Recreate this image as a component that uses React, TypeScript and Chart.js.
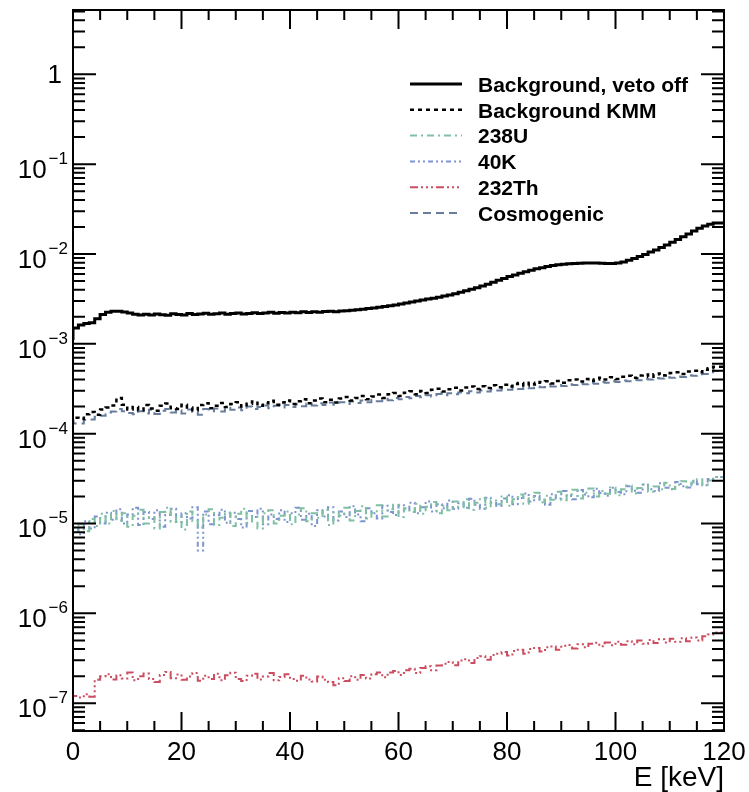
import React, { useEffect, useRef } from "react";
import { Chart, registerables } from "chart.js";

Chart.register(...registerables);

// ---------- data (1 keV bins, value per bin) ----------
const energyBinEdgesKeV: number[] = Array.from({ length: 121 }, (_, i) => i);

const xTickValues = [0, 20, 40, 60, 80, 100, 120];
const yTickExponents = [0, -1, -2, -3, -4, -5, -6, -7];

const seriesLabels = [
  "Background, veto off",
  "Background KMM",
  "238U",
  "40K",
  "232Th",
  "Cosmogenic",
];

const vetoOff = [
  1.1e-3, 1.5e-3, 1.62e-3, 1.68e-3, 1.72e-3, 1.9e-3, 2.12e-3, 2.24e-3, 2.3e-3, 2.3e-3,
  2.26e-3, 2.2e-3, 2.14e-3, 2.1e-3, 2.13e-3, 2.09e-3, 2.15e-3, 2.11e-3, 2.08e-3, 2.16e-3,
  2.12e-3, 2.1e-3, 2.17e-3, 2.12e-3, 2.15e-3, 2.19e-3, 2.13e-3, 2.16e-3, 2.2e-3, 2.14e-3,
  2.18e-3, 2.21e-3, 2.15e-3, 2.18e-3, 2.22e-3, 2.17e-3, 2.2e-3, 2.24e-3, 2.19e-3, 2.23e-3,
  2.21e-3, 2.25e-3, 2.22e-3, 2.27e-3, 2.23e-3, 2.27e-3, 2.24e-3, 2.29e-3, 2.3e-3, 2.28e-3,
  2.32e-3, 2.34e-3, 2.37e-3, 2.4e-3, 2.43e-3, 2.47e-3, 2.51e-3, 2.55e-3, 2.6e-3, 2.65e-3,
  2.7e-3, 2.78e-3, 2.85e-3, 2.92e-3, 3.0e-3, 3.08e-3, 3.15e-3, 3.22e-3, 3.3e-3, 3.4e-3,
  3.5e-3, 3.62e-3, 3.75e-3, 3.9e-3, 4.05e-3, 4.2e-3, 4.4e-3, 4.6e-3, 4.85e-3, 5.1e-3,
  5.35e-3, 5.6e-3, 5.85e-3, 6.1e-3, 6.35e-3, 6.6e-3, 6.85e-3, 7.05e-3, 7.25e-3, 7.45e-3,
  7.6e-3, 7.7e-3, 7.8e-3, 7.85e-3, 7.9e-3, 7.95e-3, 7.95e-3, 7.95e-3, 7.9e-3, 7.85e-3,
  7.85e-3, 7.95e-3, 8.15e-3, 8.5e-3, 8.9e-3, 9.4e-3, 9.9e-3, 1.05e-2, 1.11e-2, 1.18e-2,
  1.26e-2, 1.35e-2, 1.45e-2, 1.56e-2, 1.67e-2, 1.8e-2, 1.93e-2, 2.05e-2, 2.15e-2, 2.22e-2,
];

const backgroundKMM = [
  1.3e-4, 1.5e-4, 1.46e-4, 1.64e-4, 1.74e-4, 1.62e-4, 1.86e-4, 1.95e-4, 2.06e-4, 2.5e-4,
  2.1e-4, 1.86e-4, 1.98e-4, 1.82e-4, 2.08e-4, 1.9e-4, 1.8e-4, 2.04e-4, 2.16e-4, 1.92e-4,
  1.88e-4, 2.1e-4, 1.96e-4, 1.82e-4, 2.08e-4, 2.18e-4, 1.92e-4, 2.05e-4, 2.2e-4, 1.98e-4,
  2.14e-4, 2.24e-4, 2.0e-4, 2.15e-4, 2.28e-4, 2.04e-4, 2.18e-4, 2.32e-4, 2.1e-4, 2.22e-4,
  2.34e-4, 2.14e-4, 2.3e-4, 2.42e-4, 2.18e-4, 2.34e-4, 2.46e-4, 2.24e-4, 2.38e-4, 2.22e-4,
  2.46e-4, 2.56e-4, 2.34e-4, 2.5e-4, 2.62e-4, 2.42e-4, 2.6e-4, 2.72e-4, 2.5e-4, 2.74e-4,
  2.84e-4, 2.62e-4, 2.86e-4, 2.96e-4, 2.74e-4, 2.98e-4, 2.84e-4, 3.08e-4, 3.16e-4, 2.94e-4,
  3.12e-4, 3.24e-4, 3.02e-4, 3.26e-4, 3.36e-4, 3.14e-4, 3.38e-4, 3.22e-4, 3.46e-4, 3.28e-4,
  3.5e-4, 3.34e-4, 3.56e-4, 3.66e-4, 3.44e-4, 3.68e-4, 3.52e-4, 3.76e-4, 3.84e-4, 3.62e-4,
  3.86e-4, 3.68e-4, 3.92e-4, 4.02e-4, 3.8e-4, 4.06e-4, 3.88e-4, 4.02e-4, 4.18e-4, 4.0e-4,
  4.24e-4, 4.06e-4, 4.3e-4, 4.42e-4, 4.18e-4, 4.44e-4, 4.56e-4, 4.3e-4, 4.58e-4, 4.68e-4,
  4.44e-4, 4.74e-4, 4.84e-4, 4.6e-4, 4.92e-4, 5.02e-4, 4.82e-4, 5.16e-4, 5.36e-4, 5.55e-4,
];

const u238 = [
  7.0e-6, 8.4e-6, 9.8e-6, 8.2e-6, 1.12e-5, 9.4e-6, 1.28e-5, 1.0e-5, 1.38e-5, 1.08e-5,
  1.3e-5, 9.2e-6, 1.22e-5, 1.42e-5, 1.0e-5, 1.18e-5, 8.8e-6, 1.34e-5, 1.5e-5, 1.04e-5,
  1.2e-5, 8.6e-6, 1.36e-5, 1.06e-5, 9.0e-6, 1.26e-5, 1.44e-5, 9.6e-6, 1.16e-5, 1.32e-5,
  9.4e-6, 1.28e-5, 1.46e-5, 1.02e-5, 1.2e-5, 8.8e-6, 1.3e-5, 1.4e-5, 1.0e-5, 1.22e-5,
  1.36e-5, 9.8e-6, 1.26e-5, 1.48e-5, 1.06e-5, 1.3e-5, 1.16e-5, 1.42e-5, 9.6e-6, 1.34e-5,
  1.22e-5, 1.5e-5, 1.08e-5, 1.38e-5, 1.56e-5, 1.14e-5, 1.32e-5, 1.6e-5, 1.2e-5, 1.44e-5,
  1.62e-5, 1.18e-5, 1.48e-5, 1.34e-5, 1.66e-5, 1.28e-5, 1.54e-5, 1.74e-5, 1.3e-5, 1.58e-5,
  1.4e-5, 1.76e-5, 1.52e-5, 1.86e-5, 1.42e-5, 1.7e-5, 1.92e-5, 1.5e-5, 1.8e-5, 1.64e-5,
  2.0e-5, 1.58e-5, 1.86e-5, 2.1e-5, 1.66e-5, 1.96e-5, 2.2e-5, 1.72e-5, 2.04e-5, 1.84e-5,
  2.26e-5, 1.82e-5, 2.12e-5, 2.38e-5, 1.9e-5, 2.2e-5, 2.46e-5, 2.0e-5, 2.3e-5, 2.14e-5,
  2.52e-5, 2.06e-5, 2.4e-5, 2.64e-5, 2.16e-5, 2.48e-5, 2.74e-5, 2.26e-5, 2.58e-5, 2.4e-5,
  2.84e-5, 2.42e-5, 2.7e-5, 2.96e-5, 2.56e-5, 2.86e-5, 3.1e-5, 2.7e-5, 3.02e-5, 3.3e-5,
];

const k40 = [
  6.4e-6, 9.0e-6, 7.6e-6, 1.06e-5, 8.8e-6, 1.2e-5, 1.0e-5, 1.32e-5, 1.1e-5, 1.44e-5,
  1.0e-5, 1.26e-5, 1.5e-5, 9.6e-6, 1.34e-5, 1.12e-5, 1.4e-5, 9.2e-6, 1.24e-5, 1.46e-5,
  1.04e-5, 1.3e-5, 1.14e-5, 1.52e-5, 5.0e-6, 1.36e-5, 9.8e-6, 1.24e-5, 1.42e-5, 1.02e-5,
  1.32e-5, 1.12e-5, 9.0e-6, 1.38e-5, 1.18e-5, 1.46e-5, 9.8e-6, 1.26e-5, 1.12e-5, 1.4e-5,
  1.04e-5, 1.3e-5, 1.5e-5, 1.1e-5, 1.28e-5, 9.4e-6, 1.4e-5, 1.2e-5, 1.52e-5, 1.08e-5,
  1.36e-5, 1.18e-5, 1.56e-5, 1.26e-5, 1.06e-5, 1.48e-5, 1.3e-5, 1.14e-5, 1.58e-5, 1.34e-5,
  1.24e-5, 1.6e-5, 1.42e-5, 1.7e-5, 1.3e-5, 1.52e-5, 1.76e-5, 1.36e-5, 1.64e-5, 1.48e-5,
  1.8e-5, 1.46e-5, 1.68e-5, 1.5e-5, 1.88e-5, 1.62e-5, 1.46e-5, 1.94e-5, 1.7e-5, 1.58e-5,
  1.9e-5, 2.06e-5, 1.64e-5, 1.92e-5, 2.16e-5, 1.76e-5, 2.02e-5, 1.84e-5, 1.62e-5, 2.12e-5,
  1.9e-5, 2.3e-5, 2.02e-5, 1.86e-5, 2.36e-5, 2.1e-5, 1.96e-5, 2.44e-5, 2.18e-5, 2.04e-5,
  2.5e-5, 2.24e-5, 2.12e-5, 2.6e-5, 2.32e-5, 2.2e-5, 2.7e-5, 2.4e-5, 2.3e-5, 2.8e-5,
  2.5e-5, 2.4e-5, 2.9e-5, 2.6e-5, 2.52e-5, 3.0e-5, 2.74e-5, 2.66e-5, 3.12e-5, 3.3e-5,
];

const th232 = [
  1.32e-7, 1.2e-7, 1.16e-7, 1.26e-7, 1.18e-7, 1.82e-7, 2.0e-7, 2.1e-7, 1.84e-7, 2.04e-7,
  1.88e-7, 2.2e-7, 1.8e-7, 2.0e-7, 2.14e-7, 1.86e-7, 1.72e-7, 2.06e-7, 2.22e-7, 1.9e-7,
  2.08e-7, 1.82e-7, 1.98e-7, 2.16e-7, 1.78e-7, 2.02e-7, 1.86e-7, 2.12e-7, 1.8e-7, 2.04e-7,
  2.18e-7, 1.86e-7, 1.76e-7, 2.02e-7, 2.12e-7, 1.84e-7, 1.98e-7, 2.16e-7, 1.8e-7, 1.96e-7,
  2.1e-7, 1.86e-7, 1.78e-7, 2.02e-7, 1.84e-7, 1.74e-7, 1.98e-7, 1.82e-7, 1.72e-7, 1.58e-7,
  1.9e-7, 1.76e-7, 2.0e-7, 1.82e-7, 2.06e-7, 1.88e-7, 2.1e-7, 2.2e-7, 1.94e-7, 2.2e-7,
  2.28e-7, 2.06e-7, 2.32e-7, 2.42e-7, 2.16e-7, 2.46e-7, 2.58e-7, 2.32e-7, 2.62e-7, 2.74e-7,
  2.88e-7, 2.64e-7, 2.98e-7, 3.08e-7, 2.8e-7, 3.18e-7, 3.32e-7, 3.04e-7, 3.44e-7, 3.56e-7,
  3.7e-7, 3.4e-7, 3.8e-7, 3.94e-7, 3.56e-7, 4.0e-7, 4.12e-7, 3.76e-7, 4.18e-7, 4.28e-7,
  3.94e-7, 4.36e-7, 4.44e-7, 4.06e-7, 4.52e-7, 4.18e-7, 4.6e-7, 4.7e-7, 4.3e-7, 4.74e-7,
  4.4e-7, 4.84e-7, 4.46e-7, 4.9e-7, 4.52e-7, 4.98e-7, 4.6e-7, 5.06e-7, 4.68e-7, 5.14e-7,
  4.74e-7, 5.2e-7, 4.82e-7, 5.28e-7, 4.9e-7, 5.38e-7, 5.0e-7, 5.56e-7, 5.8e-7, 6.1e-7,
];

const cosmogenic = [
  1.16e-4, 1.3e-4, 1.3e-4, 1.42e-4, 1.44e-4, 1.54e-4, 1.58e-4, 1.72e-4, 1.76e-4, 1.88e-4,
  1.78e-4, 1.7e-4, 1.64e-4, 1.78e-4, 1.68e-4, 1.84e-4, 1.66e-4, 1.8e-4, 1.88e-4, 1.72e-4,
  1.82e-4, 1.68e-4, 1.86e-4, 1.74e-4, 1.62e-4, 1.88e-4, 1.78e-4, 1.9e-4, 1.76e-4, 1.94e-4,
  1.84e-4, 1.96e-4, 1.82e-4, 2.0e-4, 1.88e-4, 1.98e-4, 2.06e-4, 1.92e-4, 2.04e-4, 1.96e-4,
  2.08e-4, 1.98e-4, 2.12e-4, 2.02e-4, 2.16e-4, 2.06e-4, 2.18e-4, 2.08e-4, 2.22e-4, 2.1e-4,
  2.24e-4, 2.14e-4, 2.28e-4, 2.2e-4, 2.34e-4, 2.24e-4, 2.38e-4, 2.3e-4, 2.44e-4, 2.36e-4,
  2.5e-4, 2.42e-4, 2.56e-4, 2.48e-4, 2.62e-4, 2.54e-4, 2.68e-4, 2.6e-4, 2.76e-4, 2.68e-4,
  2.82e-4, 2.74e-4, 2.88e-4, 2.82e-4, 2.96e-4, 2.88e-4, 3.02e-4, 2.94e-4, 3.1e-4, 3.02e-4,
  3.14e-4, 3.08e-4, 3.22e-4, 3.14e-4, 3.28e-4, 3.2e-4, 3.34e-4, 3.28e-4, 3.42e-4, 3.34e-4,
  3.48e-4, 3.4e-4, 3.54e-4, 3.48e-4, 3.62e-4, 3.54e-4, 3.68e-4, 3.6e-4, 3.76e-4, 3.68e-4,
  3.82e-4, 3.76e-4, 3.9e-4, 3.84e-4, 3.98e-4, 3.92e-4, 4.06e-4, 4.0e-4, 4.16e-4, 4.1e-4,
  4.24e-4, 4.18e-4, 4.34e-4, 4.28e-4, 4.46e-4, 4.4e-4, 4.58e-4, 4.6e-4, 4.82e-4, 4.98e-4,
];

const seriesValues = [vetoOff, backgroundKMM, u238, k40, th232, cosmogenic];

// ---------- styles ----------
const seriesColors = ["#000000", "#000000", "#7fbfa3", "#7c94cf", "#cc4d5f", "#687d9c"];
const seriesWidths = [3, 2.5, 2, 2, 2, 2];
const seriesDashes: number[][] = [
  [],
  [4, 4],
  [7, 4, 2, 4],
  [5, 3, 2, 3, 2, 3],
  [8, 3, 2, 3, 2, 3, 2, 3],
  [8, 5],
];

const FONT = "'Liberation Sans', Arial, Helvetica, sans-serif";

function histPoints(values: number[]) {
  const pts = values.map((v, i) => ({ x: energyBinEdgesKeV[i], y: v }));
  pts.push({ x: energyBinEdgesKeV[values.length], y: values[values.length - 1] });
  return pts;
}

const rootStylePlugin = {
  id: "rootStyle",
  afterDraw(chart: any) {
    const { ctx, chartArea: a, scales } = chart;
    const xs = scales.x;
    const ys = scales.y;
    ctx.save();
    // frame
    ctx.strokeStyle = "#000";
    ctx.lineWidth = 2;
    ctx.setLineDash([]);
    ctx.strokeRect(a.left, a.top, a.right - a.left, a.bottom - a.top);

    // x ticks (bottom and top, inside)
    ctx.lineWidth = 2;
    ctx.beginPath();
    for (let v = 0; v <= 120; v += 5) {
      const px = xs.getPixelForValue(v);
      const len = v % 20 === 0 ? 19 : 10;
      ctx.moveTo(px, a.bottom);
      ctx.lineTo(px, a.bottom - len);
      ctx.moveTo(px, a.top);
      ctx.lineTo(px, a.top + len);
    }
    // y ticks (left and right, inside)
    for (let e = -8; e <= 0; e++) {
      for (let m = 1; m <= 9; m++) {
        const v = m * Math.pow(10, e);
        if (v < ys.min || v > ys.max) continue;
        const py = ys.getPixelForValue(v);
        const len = m === 1 ? 23 : 12;
        ctx.moveTo(a.left, py);
        ctx.lineTo(a.left + len, py);
        ctx.moveTo(a.right, py);
        ctx.lineTo(a.right - len, py);
      }
    }
    ctx.stroke();

    // x tick labels
    ctx.fillStyle = "#000";
    ctx.font = `26px ${FONT}`;
    ctx.textAlign = "center";
    ctx.textBaseline = "alphabetic";
    for (const v of xTickValues) {
      ctx.fillText(String(v), xs.getPixelForValue(v), a.bottom + 29);
    }

    // y tick labels with superscript exponent
    const rightEdge = a.left - 5;
    for (const e of yTickExponents) {
      const py = ys.getPixelForValue(Math.pow(10, e));
      if (e === 0) {
        ctx.font = `26px ${FONT}`;
        ctx.textAlign = "right";
        ctx.fillText("1", a.left - 11, py + 9);
        continue;
      }
      const sup = "\u2212" + String(-e);
      ctx.font = `17px ${FONT}`;
      const wSup = ctx.measureText(sup).width;
      ctx.textAlign = "left";
      ctx.fillText(sup, rightEdge - wSup, py);
      ctx.font = `26px ${FONT}`;
      const wBase = ctx.measureText("10").width;
      ctx.fillText("10", rightEdge - wSup - 2 - wBase, py + 14);
    }

    // x axis title
    ctx.font = `28px ${FONT}`;
    ctx.textAlign = "right";
    ctx.fillText("E [keV]", a.right, a.bottom + 55);

    // legend
    const rowY0 = 84;
    const rowStep = 25.8;
    chart.data.datasets.forEach((ds: any, i: number) => {
      const y = rowY0 + i * rowStep;
      ctx.strokeStyle = ds.borderColor;
      ctx.lineWidth = ds.borderWidth;
      ctx.setLineDash(ds.borderDash || []);
      ctx.beginPath();
      ctx.moveTo(410, y);
      ctx.lineTo(462, y);
      ctx.stroke();
      ctx.setLineDash([]);
      ctx.fillStyle = "#000";
      ctx.font = `bold 21px ${FONT}`;
      ctx.textAlign = "left";
      ctx.textBaseline = "middle";
      ctx.fillText(ds.label, 478, y + 2);
    });
    ctx.restore();
  },
};

export default function App() {
  const canvasRef = useRef<HTMLCanvasElement | null>(null);

  useEffect(() => {
    const canvas = canvasRef.current;
    if (!canvas) return;
    const chart = new Chart(canvas, {
      type: "line",
      data: {
        datasets: seriesValues.map((vals, i) => ({
          label: seriesLabels[i],
          data: histPoints(vals),
          borderColor: seriesColors[i],
          borderWidth: seriesWidths[i],
          borderDash: seriesDashes[i],
          stepped: "after" as const,
          pointRadius: 0,
          fill: false,
        })),
      },
      options: {
        responsive: false,
        animation: false,
        devicePixelRatio: 1,
        layout: { padding: { left: 73, right: 25, top: 10, bottom: 61 } },
        plugins: { legend: { display: false }, tooltip: { enabled: false } },
        scales: {
          x: { type: "linear", min: 0, max: 120, display: false },
          y: { type: "logarithmic", min: 4.9e-8, max: 5.2, display: false },
        },
      },
      plugins: [rootStylePlugin],
    });
    return () => chart.destroy();
  }, []);

  return (
    <div style={{ position: "fixed", left: 0, top: 0, width: 749, height: 792, background: "#fff" }}>
      <canvas ref={canvasRef} width={749} height={792} style={{ display: "block" }} />
    </div>
  );
}
